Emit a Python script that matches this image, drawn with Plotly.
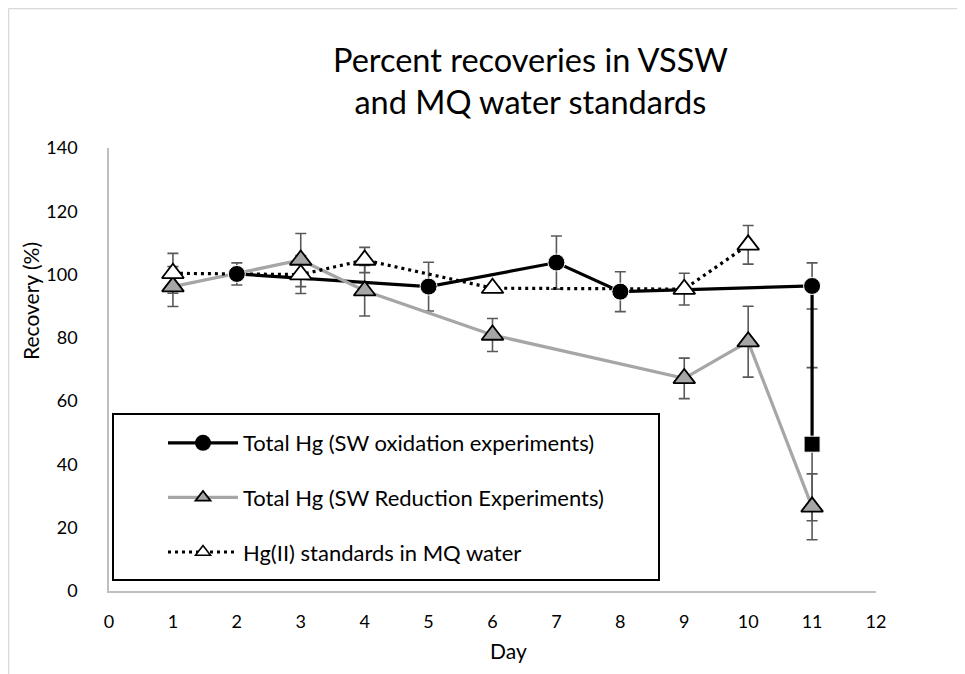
import plotly.graph_objects as go

# Total Hg, SW oxidation experiments (last point = square marker)
ox_day = [2, 5, 7, 8, 11, 11]
ox_rec = [100.2, 96.2, 103.8, 94.6, 96.4, 46.4]
ox_err = [3.5, 7.7, 8.4, 6.3, 7.3, 24.2]

# Total Hg, SW reduction experiments
red_day = [1, 3, 4, 6, 9, 10, 11]
red_rec = [96.2, 104.6, 94.9, 80.9, 67.2, 78.8, 26.6]
red_err = [6.3, 8.4, 8.0, 5.2, 6.4, 11.2, 10.4]

# Hg(II) standards in MQ water
mq_day = [1, 3, 4, 6, 9, 10]
mq_rec = [100.4, 100.0, 104.6, 95.7, 95.4, 109.4]
mq_err = [6.3, 6.0, 4.0, 0.0, 5.0, 6.1]

names = ["Total Hg (SW oxidation experiments)",
         "Total Hg (SW Reduction Experiments)",
         "Hg(II) standards in MQ water"]

FONT = "Lato, 'Open Sans', sans-serif"
ERR_COL = "#595959"
GRAY = "#a6a6a6"

ox_symbols = ["circle"] * (len(ox_day) - 1) + ["square"]
ox_sizes = [17] * (len(ox_day) - 1) + [16]

fig = go.Figure()

# error bars first (invisible markers)
for xs, ys, es in [(ox_day, ox_rec, ox_err), (red_day, red_rec, red_err), (mq_day, mq_rec, mq_err)]:
    fig.add_trace(go.Scatter(
        x=xs, y=ys, mode="markers", showlegend=False, hoverinfo="skip",
        marker=dict(size=1, color="rgba(0,0,0,0)"),
        error_y=dict(type="data", array=es, color=ERR_COL, thickness=1.6, width=5.5)))

# then the lines (Excel draws all lines beneath all markers)
fig.add_trace(go.Scatter(x=ox_day, y=ox_rec, mode="lines", showlegend=False,
                         line=dict(color="black", width=3.2), hoverinfo="skip"))
fig.add_trace(go.Scatter(x=red_day, y=red_rec, mode="lines", showlegend=False,
                         line=dict(color=GRAY, width=3.2), hoverinfo="skip"))
fig.add_trace(go.Scatter(x=mq_day, y=mq_rec, mode="lines", showlegend=False,
                         line=dict(color="black", width=3.2, dash="3px,4px"), hoverinfo="skip"))

# markers on top
fig.add_trace(go.Scatter(
    x=ox_day, y=ox_rec, mode="markers", showlegend=False,
    marker=dict(symbol=ox_symbols, size=ox_sizes, color="black", opacity=1)))
fig.add_trace(go.Scatter(
    x=red_day, y=red_rec, mode="markers", showlegend=False,
    marker=dict(symbol="triangle-up", size=19, color=GRAY, opacity=1,
                line=dict(color="black", width=1.8))))
fig.add_trace(go.Scatter(
    x=mq_day, y=mq_rec, mode="markers", showlegend=False,
    marker=dict(symbol="triangle-up", size=19, color="white", opacity=1,
                line=dict(color="black", width=1.8))))

# legend entries
fig.add_trace(go.Scatter(x=[None], y=[None], mode="lines+markers", name=names[0], legendgroup="a",
                         line=dict(color="black", width=3.2),
                         marker=dict(symbol="circle", size=16, color="black")))
fig.add_trace(go.Scatter(x=[None], y=[None], mode="lines+markers", name=names[1], legendgroup="b",
                         line=dict(color=GRAY, width=3.2),
                         marker=dict(symbol="triangle-up", size=13, color=GRAY,
                                     line=dict(color="black", width=1.8))))
fig.add_trace(go.Scatter(x=[None], y=[None], mode="lines+markers", name=names[2], legendgroup="c",
                         line=dict(color="black", width=3, dash="3px,4px"),
                         marker=dict(symbol="triangle-up", size=13, color="white",
                                     line=dict(color="black", width=1.6))))

# screen pixel -> paper, plot area on screen is 109..876 x 148..591
def px(x):
    return (x - 109) / 767

def py(y):
    return (591 - y) / 443

shapes = [
    # legend frame
    dict(type="rect", xref="paper", yref="paper", x0=px(113), x1=px(659), y0=py(580), y1=py(414),
         line=dict(color="black", width=2), fillcolor="white", layer="above"),
    # chart-area border (top and left visible)
    dict(type="line", xref="paper", yref="paper", x0=px(8.5), x1=px(8.5), y0=py(674), y1=py(8.5),
         line=dict(color="#d9d9d9", width=1.5)),
    dict(type="line", xref="paper", yref="paper", x0=px(8.5), x1=px(965), y0=py(8.5), y1=py(8.5),
         line=dict(color="#d9d9d9", width=1.5)),
]

annotations = [
    dict(text="Percent recoveries in VSSW<br>and MQ water standards", xref="paper", yref="paper",
         x=px(530), y=py(80), xanchor="center", yanchor="middle", showarrow=False,
         font=dict(family=FONT, size=32.5, color="black")),
    dict(text="Recovery (%)", xref="paper", yref="paper", x=px(30), y=py(301), textangle=-90,
         xanchor="center", yanchor="middle", showarrow=False,
         font=dict(family=FONT, size=21, color="black")),
    dict(text="Day", xref="paper", yref="paper", x=px(508), y=py(650),
         xanchor="center", yanchor="middle", showarrow=False,
         font=dict(family=FONT, size=21, color="black")),
]

# page body has an 8px margin, so the figure sits 8px in from the window edge
fig.update_layout(
    width=957, height=666,
    margin=dict(l=101, r=89, t=140, b=83),
    paper_bgcolor="white", plot_bgcolor="white",
    font=dict(family=FONT, size=18, color="black"),
    shapes=shapes, annotations=annotations,
    xaxis=dict(range=[0, 12], dtick=1, tick0=0, showgrid=False, zeroline=False,
               showline=True, linecolor="#bfbfbf", linewidth=1.5, ticks="",
               ticklabelstandoff=14),
    yaxis=dict(range=[0, 140], dtick=20, tick0=0, showgrid=False, zeroline=False,
               showline=True, linecolor="#bfbfbf", linewidth=1.5, ticks="",
               ticklabelstandoff=26),
    legend=dict(x=px(163), y=py(422), xanchor="left", yanchor="top",
                bgcolor="rgba(0,0,0,0)", borderwidth=0, itemwidth=70,
                tracegroupgap=23, font=dict(family=FONT, size=22, color="black")),
)

fig.write_html("out.html")
